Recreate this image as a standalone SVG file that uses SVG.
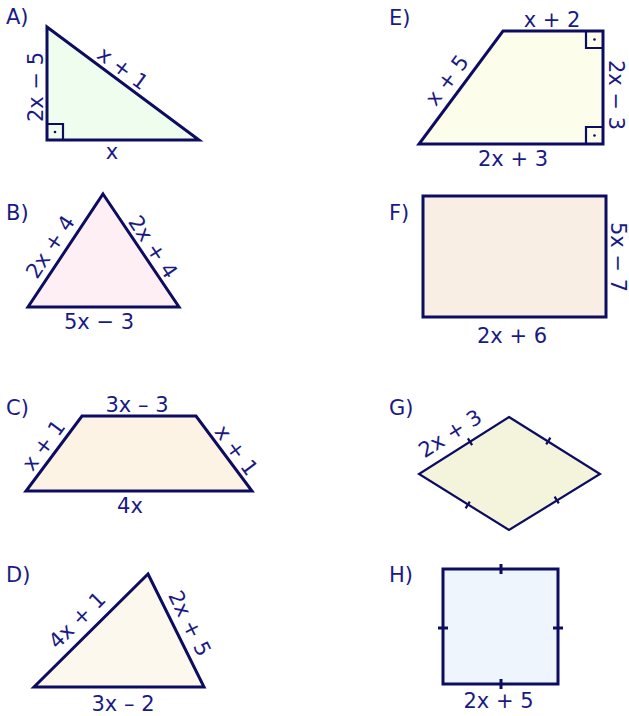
<svg xmlns="http://www.w3.org/2000/svg" width="629" height="716" viewBox="0 0 629 716">
<style>
.bg{fill:#ffffff}
.sh{stroke:#0c0c60;stroke-width:3;stroke-linejoin:miter}
.mk{stroke:#0c0c60;stroke-width:2.2;fill:none}
.dot{fill:#0c0c60}
.lab{font-family:"DejaVu Sans",Verdana,sans-serif;font-size:21px;fill:#1a1a84}
.t{font-family:"DejaVu Sans",Verdana,sans-serif;font-size:21px;fill:#1a1a84;text-anchor:middle}
</style>
<rect class="bg" x="0" y="0" width="629" height="716"/>

<g id="A">
<polygon class="sh" points="47,27 47,140 199,140" fill="#effdef"/>
<path class="mk" d="M47,124 H63 V140"/>
<circle class="dot" cx="55" cy="132" r="1.3"/>
<text class="lab" x="6" y="24">A)</text>
<text class="t" transform="translate(35,87) rotate(-90)" dy="0.36em">2x − 5</text>
<text class="t" transform="translate(123,68) rotate(36.6)" dy="0.36em">x + 1</text>
<text class="t" x="112" y="159">x</text>
</g>

<g id="E">
<polygon class="sh" points="503,31 603,31 603,144 419,144" fill="#fdfdec"/>
<path class="mk" d="M586,31 V48 H603"/>
<circle class="dot" cx="594.5" cy="39.5" r="1.3"/>
<path class="mk" d="M586,144 V127 H603"/>
<circle class="dot" cx="594.5" cy="135.5" r="1.3"/>
<text class="lab" x="389" y="25">E)</text>
<text class="t" x="552" y="26.5">x + 2</text>
<text class="t" transform="translate(617,95) rotate(90)" dy="0.36em">2x − 3</text>
<text class="t" transform="translate(446.7,80) rotate(-53.4)" dy="0.36em">x + 5</text>
<text class="t" x="513" y="166">2x + 3</text>
</g>

<g id="B">
<polygon class="sh" points="103,194 179,307 28,307" fill="#fdeff4"/>
<text class="lab" x="6" y="220">B)</text>
<text class="t" transform="translate(50,246.7) rotate(-56.4)" dy="0.36em">2x + 4</text>
<text class="t" transform="translate(153.3,246.7) rotate(56.4)" dy="0.36em">2x + 4</text>
<text class="t" x="99" y="329">5x − 3</text>
</g>

<g id="F">
<rect class="sh" x="423" y="196" width="183" height="121" fill="#f9eee4"/>
<text class="lab" x="389" y="220">F)</text>
<text class="t" transform="translate(619,257) rotate(90)" dy="0.36em">5x − 7</text>
<text class="t" x="512" y="342.5">2x + 6</text>
</g>

<g id="C">
<polygon class="sh" points="82,416 196,416 252,491 26,491" fill="#fcf3e4"/>
<text class="lab" x="6" y="415">C)</text>
<text class="t" x="137" y="412">3x – 3</text>
<text class="t" transform="translate(43.3,445) rotate(-53.3)" dy="0.36em">x + 1</text>
<text class="t" transform="translate(236.7,450) rotate(53.3)" dy="0.36em">x + 1</text>
<text class="t" x="130" y="513">4x</text>
</g>

<g id="G">
<polygon class="sh" style="stroke-width:2.2" points="509,417 600,474 509,530 419,474" fill="#f4f3dc"/>
<path class="mk" d="M467.9,438.3 L472.1,445.1 M546.2,444.4 L550.4,437.6 M465.6,508.4 L469.8,501.6 M554.6,496.6 L558.8,503.4"/>
<text class="lab" x="389" y="415">G)</text>
<text class="t" transform="translate(450,433.3) rotate(-32.3)" dy="0.36em">2x + 3</text>
</g>

<g id="D">
<polygon class="sh" points="148,574 204,687 34,687" fill="#fdf8ee"/>
<text class="lab" x="6" y="582">D)</text>
<text class="t" transform="translate(76.7,620) rotate(-44.8)" dy="0.36em">4x + 1</text>
<text class="t" transform="translate(190,623.3) rotate(63.6)" dy="0.36em">2x + 5</text>
<text class="t" x="123" y="711">3x – 2</text>
</g>

<g id="H">
<rect class="sh" x="443" y="569" width="115" height="115" fill="#eef5fd"/>
<path class="sh" fill="none" d="M501,564 V574 M501,679 V689 M438,628 H448 M553,628 H563"/>
<text class="lab" x="389" y="582">H)</text>
<text class="t" x="498.5" y="708">2x + 5</text>
</g>

<g id="connectors"></g>
</svg>
